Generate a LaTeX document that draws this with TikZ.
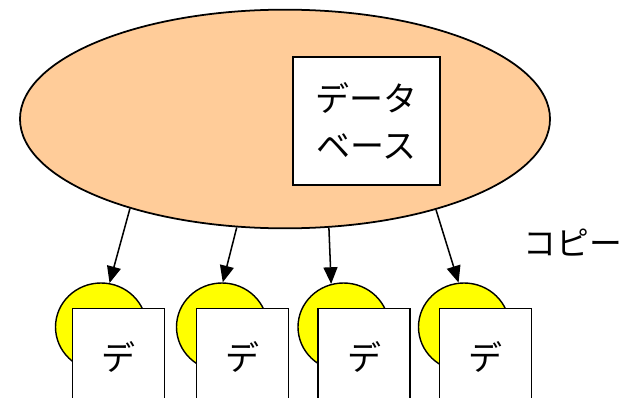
\documentclass[tikz,border=0pt]{standalone}
\usepackage{fontspec}
\setmainfont{Noto Sans CJK JP}
\usetikzlibrary{shapes.geometric,arrows.meta}

\definecolor{peach}{HTML}{FFCC99}
\definecolor{clientyellow}{HTML}{FFFF00}

\tikzset{
  dbcloud/.style={ellipse,draw,line width=1.5pt,fill=peach,minimum width=15.9cm,minimum height=6.56cm,inner sep=0pt},
  dbbox/.style={draw,line width=1.2pt,fill=white,minimum width=4.41cm,minimum height=3.84cm,inner sep=0pt,align=center,
    font=\fontsize{29pt}{40pt}\selectfont},
  client/.style={ellipse,draw,line width=1.2pt,fill=clientyellow,minimum width=2.73cm,minimum height=2.64cm,inner sep=0pt},
  copybox/.style={draw,line width=1.1pt,fill=white,anchor=north,minimum width=2.76cm,inner sep=0pt,
    text height=1.86cm,text depth=4.5cm,font=\fontsize{29pt}{34pt}\selectfont},
  copyarrow/.style={line width=1.3pt,-{Triangle[length=0.5cm,width=0.42cm]}}
}

\begin{document}
\begin{tikzpicture}[x=0.03cm,y=-0.03cm]
                \clip (0,0) rectangle (621,398);
                % server side
                \node[dbcloud] (db) at (285,119) {};
                \node[dbbox] (dbbox) at (366.5,121) {データ\\ベース};
                \node[font=\fontsize{28pt}{34pt}\selectfont] (copylabel) at (573,243) {コピー};
                % clients
                \node[client] (c1) at (101,327) {};
                \node[client] (c2) at (222,327) {};
                \node[client] (c3) at (343.5,327) {};
                \node[client] (c4) at (464,327) {};
                \node[copybox] (r1) at (118.3,308) {デ};
                \node[copybox] (r2) at (242.7,308) {デ};
                \node[copybox] (r3) at (364,308) {デ};
                \node[copybox] (r4) at (485.5,308) {デ};
                % replication
                \draw[copyarrow] (db.210) -- (c1.79);
                \draw[copyarrow] (db.246.5) -- (c2.89);
                \draw[copyarrow] (db.292.6) -- (c3.106);
                \draw[copyarrow] (db.329.4) -- (c4.97.6);
                \end{tikzpicture}
\end{document}
